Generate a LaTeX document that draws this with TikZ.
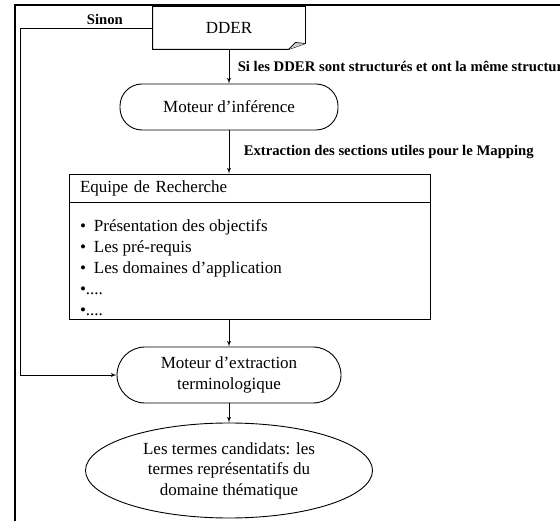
\documentclass[tikz,border=0pt]{standalone}
\usepackage{fontspec}
\setmainfont{Liberation Serif}
\usetikzlibrary{arrows,shapes,positioning}

\begin{document}
\begin{tikzpicture}[auto, x=1pt, y=1pt, node distance=80pt, >=latex', line width=0.9pt,
        font=\fontsize{17}{20.5}\selectfont]
        \tikzstyle{doc} = [rectangle, minimum width=152pt, minimum height=42pt]
        \tikzstyle{moteur} = [draw, rectangle, rounded corners=22pt, minimum width=218pt, minimum height=46pt, align=center]
        \tikzstyle{entete} = [draw, rectangle, minimum width=361pt, minimum height=28pt, text width=339pt, inner xsep=11pt, inner ysep=0pt, align=left]
        \tikzstyle{liste} = [draw, rectangle, inner sep=0pt]
        \tikzstyle{resultat} = [draw, ellipse, minimum width=287pt, minimum height=95pt, inner sep=0pt, align=center]
        \tikzstyle{etiq} = [font=\fontsize{14.7}{17}\selectfont\bfseries]

        \useasboundingbox (0,0) rectangle (560,-521);

        % cadre
        \draw [line width=2pt] (15,-521) -- (15,-5) -- (560,-5);

        \node [doc] (dder) at (229,-28) {DDER};
        \node [moteur, below of=dder, node distance=79pt] (inference) {Moteur d’inférence};
        \node [entete, below of=inference, node distance=81pt, xshift=20.5pt] (equipe) {Equipe de Recherche};
        \node [liste, below of=equipe, node distance=72.5pt] (items) {\parbox[c][117pt][t]{361pt}{\leftskip=11pt\baselineskip=21pt\vspace*{18pt}%
            \textbullet\hspace{8pt}Présentation des objectifs\\
            \textbullet\hspace{8pt}Les pré-requis\\
            \textbullet\hspace{8pt}Les domaines d’application\\
            \textbullet....\\
            \textbullet....}};
        \node [moteur, minimum width=224pt, minimum height=56pt, rounded corners=28pt, below of=items, node distance=114.5pt, xshift=-20.5pt] (extraction) {Moteur d’extraction\\terminologique};
        \node [resultat, below of=extraction, node distance=95.5pt] (termes) {Les termes candidats: les\\termes représentatifs du\\domaine thématique};
        \coordinate (retour) at (20,0);

        % document DDER
        \draw (dder.north west) -- (dder.north east) -- ([yshift=6pt]dder.south east) -- ([xshift=-17pt]dder.south east) -- (dder.south west) -- cycle;
        \draw [fill=gray!40, line width=0.6pt] ([xshift=-17pt]dder.south east) -- ([xshift=-10pt,yshift=7pt]dder.south east) -- ([yshift=6pt]dder.south east);

        \draw [->] (dder) -- node [etiq, xshift=5pt] {Si les DDER sont structurés et ont la même structure} (inference);
        \draw [->] (inference) -- node [etiq, xshift=11pt] {Extraction des sections utiles pour le Mapping} (inference |- equipe.north);
        \draw [->] (items.south -| extraction) -- (extraction);
        \draw [->] (extraction) -- (termes);
        \draw [->] (dder.west) -| node [etiq, pos=0.18, above] {Sinon} (retour |- extraction.west) -- (extraction.west);
    \end{tikzpicture}
\end{document}
